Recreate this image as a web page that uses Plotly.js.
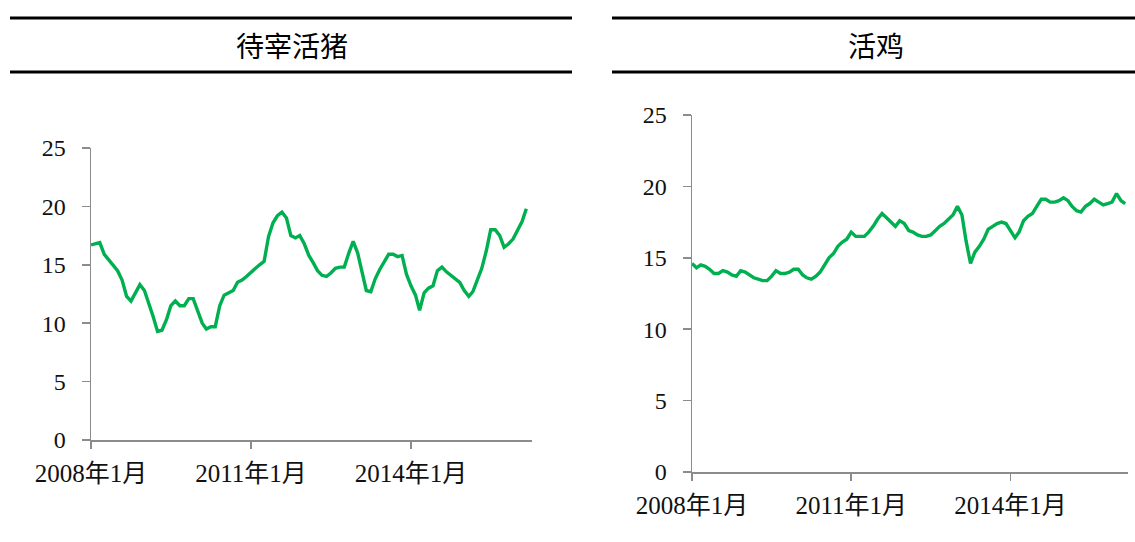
<!DOCTYPE html>
<html><head><meta charset="utf-8">
<script src="https://cdn.plot.ly/plotly-3.0.1.min.js"></script>
<style>html,body{margin:0;padding:0;background:#fff}#chart{width:1135px;height:542px}</style>
</head><body><div id="chart"></div>
<script>
// Panel titles
const titles = ['待宰活猪', '活鸡'];
// Start month of the monthly series
const startYear = 2008, startMonth = 1;
// Tick labels
const tickDates = ['2008-01-01', '2011-01-01', '2014-01-01'];
const tickLabels = ['2008年1月', '2011年1月', '2014年1月'];
// 待宰活猪 monthly values (2008-01 .. 2016-03)
const pigValues = [16.7,16.8,16.9,15.9,15.4,15.0,14.5,13.7,12.3,11.9,12.6,13.3,
  12.8,11.7,10.6,9.3,9.4,10.3,11.5,11.9,11.5,11.5,12.1,12.1,
  11.0,10.0,9.5,9.7,9.7,11.5,12.4,12.6,12.8,13.5,13.7,14.0,
  14.4,14.7,15.0,15.3,17.4,18.6,19.2,19.5,19.0,17.5,17.3,17.5,
  16.8,15.8,15.2,14.5,14.1,14.0,14.3,14.7,14.8,14.8,16.0,17.0,
  16.0,14.2,12.8,12.7,13.8,14.6,15.2,15.9,15.9,15.7,15.8,14.2,
  13.2,12.4,11.1,12.6,13.0,13.2,14.5,14.8,14.4,14.1,13.8,13.5,
  12.8,12.3,12.7,13.8,14.7,16.2,18.0,18.0,17.5,16.5,16.8,17.2,
  17.9,18.7,19.8];
// 活鸡 monthly values (2008-01 .. 2016-03)
const chickenValues = [14.6,14.3,14.5,14.4,14.2,13.9,13.9,14.1,14.0,13.8,13.7,14.1,
  14.0,13.8,13.6,13.5,13.4,13.4,13.7,14.1,13.9,13.9,14.0,14.2,
  14.2,13.8,13.6,13.5,13.7,14.0,14.5,15.0,15.3,15.8,16.1,16.3,
  16.8,16.5,16.5,16.5,16.8,17.2,17.7,18.1,17.8,17.5,17.2,17.6,
  17.4,16.9,16.8,16.6,16.5,16.5,16.6,16.9,17.2,17.4,17.7,18.0,
  18.6,18.0,16.2,14.6,15.4,15.8,16.3,17.0,17.2,17.4,17.5,17.4,
  16.9,16.4,16.8,17.6,17.9,18.1,18.6,19.1,19.1,18.9,18.9,19.0,
  19.2,19.0,18.6,18.3,18.2,18.6,18.8,19.1,18.9,18.7,18.8,18.9,
  19.5,19.0,18.8];

function months(n){
  const out=[];
  for(let i=0;i<n;i++){
    const y=startYear+Math.floor((startMonth-1+i)/12);
    const m=((startMonth-1+i)%12)+1;
    out.push(y+'-'+String(m).padStart(2,'0')+'-01');
  }
  return out;
}

const green = '#00B050';
const fam = '"Liberation Serif","Times New Roman","Noto Sans CJK SC",serif';
const xTickFont = {family:fam, size:25, color:'#111'};
const yTickFont = {family:fam, size:24, color:'#111'};

const traces = [
  {x:months(pigValues.length), y:pigValues, type:'scatter', mode:'lines',
   line:{color:green, width:3.4}, xaxis:'x', yaxis:'y', hoverinfo:'skip'},
  {x:months(chickenValues.length), y:chickenValues, type:'scatter', mode:'lines',
   line:{color:green, width:3.4}, xaxis:'x2', yaxis:'y2', hoverinfo:'skip'}
];

function xax(domain, range){
  return {domain:domain, type:'date', range:range, showgrid:false, zeroline:false,
    showline:true, linecolor:'#8c8c8c', linewidth:1.5,
    ticks:'outside', ticklen:7, tickwidth:1.5, tickcolor:'#8c8c8c',
    tickvals:tickDates, ticktext:tickLabels, tickfont:xTickFont, ticklabelstandoff:3};
}
function yax(domain, anchor){
  return {domain:domain, anchor:anchor, range:[0,25], tickvals:[0,5,10,15,20,25], showgrid:false, zeroline:false,
    showline:true, linecolor:'#8c8c8c', linewidth:1.5,
    ticks:'outside', ticklen:8, tickwidth:1.5, tickcolor:'#8c8c8c',
    tickfont:yTickFont, ticklabelstandoff:11};
}

const W=1135, H=542;
const px = v => v/W, py = v => (H-v)/H;

const layout = {
  width:W, height:H, margin:{l:0,r:0,t:0,b:0}, showlegend:false,
  paper_bgcolor:'#fff', plot_bgcolor:'#fff',
  xaxis: Object.assign(xax([px(91), px(531.7)], ['2008-01-01','2016-04-07']), {anchor:'y'}),
  yaxis: yax([py(440), py(148)], 'x'),
  xaxis2: Object.assign(xax([px(692), px(1128)], ['2008-01-01','2016-03-20']), {anchor:'y2'}),
  yaxis2: yax([py(472), py(115)], 'x2'),
  shapes: [
    {type:'line', xref:'paper', yref:'paper', x0:px(10), x1:px(572), y0:py(18), y1:py(18), line:{color:'#000', width:3}},
    {type:'line', xref:'paper', yref:'paper', x0:px(10), x1:px(572), y0:py(72), y1:py(72), line:{color:'#000', width:3}},
    {type:'line', xref:'paper', yref:'paper', x0:px(612), x1:px(1135), y0:py(18), y1:py(18), line:{color:'#000', width:3}},
    {type:'line', xref:'paper', yref:'paper', x0:px(612), x1:px(1135), y0:py(72), y1:py(72), line:{color:'#000', width:3}}
  ],
  annotations: [
    {text:titles[0], xref:'paper', yref:'paper', x:px(292), y:py(45), showarrow:false,
     xanchor:'center', yanchor:'middle', font:{family:'"Noto Sans CJK SC",sans-serif', size:28, color:'#000'}},
    {text:titles[1], xref:'paper', yref:'paper', x:px(876), y:py(45), showarrow:false,
     xanchor:'center', yanchor:'middle', font:{family:'"Noto Sans CJK SC",sans-serif', size:28, color:'#000'}}
  ]
};

Plotly.newPlot('chart', traces, layout, {displayModeBar:false, staticPlot:true});
</script></body></html>
